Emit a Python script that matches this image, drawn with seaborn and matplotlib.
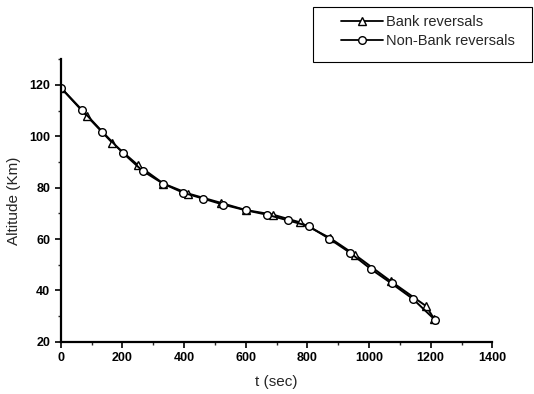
import pandas as pd
import seaborn as sns
import matplotlib.pyplot as plt
from matplotlib.ticker import MultipleLocator
from matplotlib.lines import Line2D
from matplotlib.patches import Rectangle

# values
bank_t = [0, 84, 167, 250, 333, 414, 519, 600, 688, 776, 872, 955, 1070, 1186, 1212]
bank_alt = [119.0, 108.0, 97.5, 88.8, 81.6, 77.7, 74.1, 71.3, 69.5, 66.5, 60.5, 53.8, 43.6,
            33.8, 28.7]

nonbank_t = [0, 68, 135, 201, 266, 333, 398, 463, 527, 600, 668, 736, 805, 871, 938, 1006,
             1073, 1142, 1214]
nonbank_alt = [119.0, 110.4, 101.8, 93.6, 86.5, 81.5, 78.0, 75.7, 73.4, 71.2, 69.5, 67.3,
               65.0, 60.1, 54.7, 48.3, 42.7, 36.7, 28.5]

labels = ['Bank reversals', 'Non-Bank reversals']

sns.set_style('ticks')
plt.rcParams['font.family'] = ['Liberation Sans', 'DejaVu Sans']

bank = pd.DataFrame({'t': bank_t, 'alt': bank_alt})
nonbank = pd.DataFrame({'t': nonbank_t, 'alt': nonbank_alt})

fig = plt.figure(figsize=(5.34, 3.94), dpi=100)
ax = fig.add_axes([0.1137, 0.1327, 0.8083, 0.7168])

mk = dict(markerfacecolor='white', markeredgecolor='black', markeredgewidth=1.0, markersize=5.5)
sns.lineplot(data=bank, x='t', y='alt', ax=ax, color='black', lw=1.4, marker='^', **mk)
sns.lineplot(data=nonbank, x='t', y='alt', ax=ax, color='black', lw=1.4, marker='o', **mk)

ax.set_xlim(0, 1400)
ax.set_ylim(20, 130)
ax.xaxis.set_major_locator(MultipleLocator(200))
ax.xaxis.set_minor_locator(MultipleLocator(100))
ax.yaxis.set_minor_locator(MultipleLocator(10))
ax.set_yticks([20, 40, 60, 80, 100, 120])
ax.tick_params(which='major', length=4, width=1.2, labelsize=9, colors='black')
ax.tick_params(which='minor', length=2.5, width=1.0)
for lab in ax.get_xticklabels() + ax.get_yticklabels():
    lab.set_fontweight('bold')

sns.despine(ax=ax)
for s in ['left', 'bottom']:
    ax.spines[s].set_linewidth(1.6)
    ax.spines[s].set_color('black')

ax.set_xlabel('t (sec)', fontsize=11, labelpad=8)
ax.set_ylabel('Altitude (Km)', fontsize=11, labelpad=6)

# legend box sits above the plot, top right of the figure
fig.patches.append(Rectangle((0.5856, 0.8426), 0.4107, 0.1394, transform=fig.transFigure,
                             fill=False, edgecolor='black', lw=0.8))
handles = [Line2D([], [], color='black', lw=1.3, marker='^', **mk),
           Line2D([], [], color='black', lw=1.3, marker='o', **mk)]
fig.legend(handles, labels, loc='upper left', bbox_to_anchor=(0.638, 0.962),
           fontsize=10.5, frameon=False, handlelength=2.9, borderpad=0,
           labelspacing=0.32, borderaxespad=0, handletextpad=0.2)

fig.savefig('out.png', dpi=100)
